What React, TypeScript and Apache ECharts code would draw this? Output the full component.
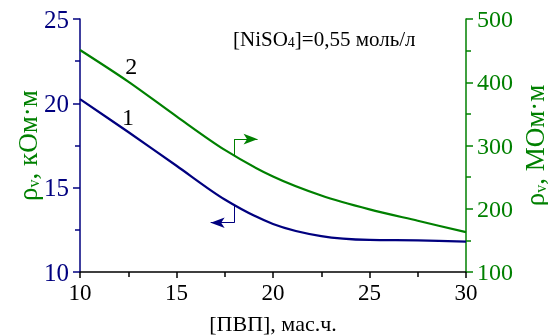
import React, { useEffect, useRef } from "react";
import * as echarts from "echarts";

const xValues = [10, 12.5, 15, 17.5, 20, 22.5, 25, 27.5, 30];
const series1Values = [20.25, 18.3, 16.3, 14.3, 12.85, 12.13, 11.9, 11.88, 11.8];
const series2Values = [451, 401, 346, 293, 251, 221, 199, 181, 163];
const leftTicks = { min: 10, max: 25, interval: 5 };
const rightTicks = { min: 100, max: 500, interval: 100 };
const xTicks = { min: 10, max: 30, interval: 5 };

const NAVY = "#00007f";
const GREEN = "#008000";
const FONT = "Liberation Serif";

export default function App() {
  const ref = useRef<HTMLDivElement>(null);
  useEffect(() => {
    if (!ref.current) return;
    const chart = echarts.init(ref.current, null, { renderer: "svg" });
    const pairs = (vals: number[]) => xValues.map((x, i) => [x, vals[i]]);
    const nameRich = {
      a: { fontFamily: FONT, fontSize: 27, color: GREEN, verticalAlign: "bottom", lineHeight: 27 },
      b: { fontFamily: FONT, fontSize: 16, color: GREEN, verticalAlign: "bottom", lineHeight: 15 },
    };
    chart.setOption({
      animation: false,
      textStyle: { fontFamily: FONT },
      grid: { left: 80, right: 82, top: 19, bottom: 64, outerBoundsMode: "none", containLabel: false },
      graphic: [
        {
          type: "text",
          left: 233,
          top: 28,
          style: {
            text: "{a|[NiSO}{s|4}{a|]=0,55 моль/л}",
            rich: {
              a: { fontFamily: FONT, fontSize: 21, fill: "#000", verticalAlign: "bottom", lineHeight: 22 },
              s: { fontFamily: FONT, fontSize: 14, fill: "#000", verticalAlign: "bottom", lineHeight: 13 },
            },
          },
        },
      ],
      xAxis: {
        type: "value",
        min: xTicks.min,
        max: xTicks.max,
        interval: xTicks.interval,
        name: "[ПВП], мас.ч.",
        nameLocation: "middle",
        nameGap: 40,
        nameMoveOverlap: false,
        nameTextStyle: { fontFamily: FONT, fontSize: 22, color: "#000" },
        axisLine: { show: true, lineStyle: { color: "#000", width: 1.5 } },
        axisTick: { show: true, length: 6, lineStyle: { color: "#000", width: 1.5 } },
        minorTick: { show: true, splitNumber: 2, length: 5, lineStyle: { color: "#000", width: 1.5 } },
        axisLabel: { fontFamily: FONT, fontSize: 23, color: "#000", margin: 9 },
        splitLine: { show: false },
      },
      yAxis: [
        {
          type: "value",
          position: "left",
          min: leftTicks.min,
          max: leftTicks.max,
          interval: leftTicks.interval,
          name: "{a|ρ}{b|v}{a|, кОм·м}",
          nameLocation: "middle",
          nameRotate: 90,
          nameGap: 39,
          nameMoveOverlap: false,
          nameTextStyle: { fontFamily: FONT, rich: nameRich },
          axisLine: { show: true, lineStyle: { color: NAVY, width: 1.5 } },
          axisTick: { show: true, length: 7, lineStyle: { color: NAVY, width: 1.5 } },
          minorTick: { show: true, splitNumber: 2, length: 5, lineStyle: { color: NAVY, width: 1.5 } },
          axisLabel: { fontFamily: FONT, fontSize: 25, color: NAVY, margin: 11 },
          splitLine: { show: false },
        },
        {
          type: "value",
          position: "right",
          min: rightTicks.min,
          max: rightTicks.max,
          interval: rightTicks.interval,
          name: "{a|ρ}{b|v}{a|, МОм·м}",
          nameLocation: "middle",
          nameRotate: 90,
          nameGap: 55,
          nameMoveOverlap: false,
          nameTextStyle: { fontFamily: FONT, rich: nameRich },
          axisLine: { show: true, lineStyle: { color: GREEN, width: 1.5 } },
          axisTick: { show: true, length: 7, lineStyle: { color: GREEN, width: 1.5 } },
          minorTick: { show: true, splitNumber: 2, length: 5, lineStyle: { color: GREEN, width: 1.5 } },
          axisLabel: { fontFamily: FONT, fontSize: 24, color: GREEN, margin: 11 },
          splitLine: { show: false },
        },
      ],
      series: [
        {
          type: "line",
          yAxisIndex: 0,
          data: pairs(series1Values),
          smooth: 0.3,
          showSymbol: false,
          lineStyle: { color: NAVY, width: 2.2 },
          itemStyle: { color: NAVY },
          markLine: {
            silent: true,
            symbolSize: [8, 14],
            label: { show: false },
            lineStyle: { color: NAVY, width: 1, type: "solid" },
            data: [
              [
                { coord: [18, 14.0], symbol: "none" },
                { coord: [18, 12.92], symbol: "none" },
              ],
              [
                { coord: [18, 12.92], symbol: "none" },
                { coord: [16.77, 12.92], symbol: "arrow" },
              ],
            ],
          },
          markPoint: {
            silent: true,
            symbol: "circle",
            symbolSize: 1,
            itemStyle: { color: "rgba(0,0,0,0)" },
            label: { show: true, position: "inside", fontFamily: FONT, fontSize: 24, color: "#000", formatter: "1" },
            data: [{ coord: [12.49, 19.2] }],
          },
        },
        {
          type: "line",
          yAxisIndex: 1,
          data: pairs(series2Values),
          smooth: 0.3,
          showSymbol: false,
          lineStyle: { color: GREEN, width: 2.2 },
          itemStyle: { color: GREEN },
          markLine: {
            silent: true,
            symbolSize: [8, 14],
            label: { show: false },
            lineStyle: { color: GREEN, width: 1, type: "solid" },
            data: [
              [
                { coord: [18, 283], symbol: "none" },
                { coord: [18, 310], symbol: "none" },
              ],
              [
                { coord: [18, 310], symbol: "none" },
                { coord: [19.2, 310], symbol: "arrow" },
              ],
            ],
          },
          markPoint: {
            silent: true,
            symbol: "circle",
            symbolSize: 1,
            itemStyle: { color: "rgba(0,0,0,0)" },
            label: { show: true, position: "inside", fontFamily: FONT, fontSize: 24, color: "#000", formatter: "2" },
            data: [{ coord: [12.65, 425] }],
          },
        },
      ],
    });
    return () => chart.dispose();
  }, []);
  return <div ref={ref} style={{ position: "fixed", left: 0, top: 0, width: 548, height: 336 }} />;
}
